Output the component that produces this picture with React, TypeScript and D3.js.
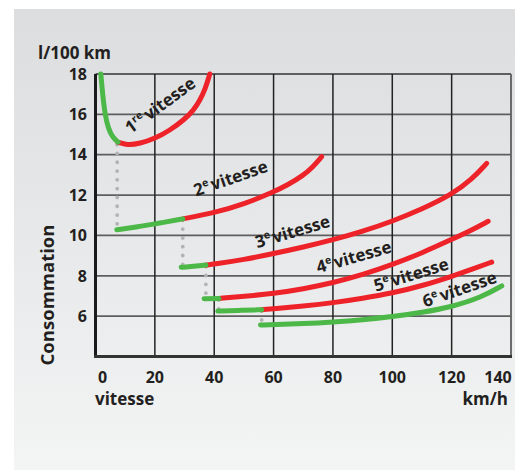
import * as d3 from 'd3'

// speed (km/h), consumption (l/100 km)
const gear1Green: [number, number][] = [[1.8, 18], [2.4, 17], [3.2, 16], [4.3, 15.3], [5.8, 14.85], [7.6, 14.62]]
const gear1Red: [number, number][] = [[7.6, 14.62], [10.5, 14.47], [15, 14.55], [20, 14.8], [25, 15.2], [30, 15.75], [33, 16.2], [35, 16.65], [37, 17.25], [38.5, 18]]
const gear2Green: [number, number][] = [[7.2, 10.28], [15, 10.45], [22, 10.62], [29.4, 10.82]]
const gear2Red: [number, number][] = [[29.4, 10.82], [40, 11.12], [50, 11.55], [60, 12.15], [65, 12.52], [70, 12.98], [73, 13.35], [76.2, 13.9]]
const gear3Green: [number, number][] = [[28.9, 8.42], [33, 8.47], [37.2, 8.53]]
const gear3Red: [number, number][] = [[37.2, 8.53], [40, 8.58], [50, 8.8], [60, 9.1], [70, 9.42], [80, 9.78], [90, 10.2], [100, 10.7], [110, 11.3], [120, 12.02], [127, 12.8], [131.8, 13.57]]
const gear4Green: [number, number][] = [[36.6, 6.86], [41.6, 6.88]]
const gear4Red: [number, number][] = [[41.6, 6.88], [50, 6.98], [60, 7.12], [70, 7.35], [80, 7.65], [90, 8.05], [100, 8.55], [110, 9.13], [120, 9.8], [127, 10.28], [132.3, 10.7]]
const gear5Green: [number, number][] = [[41.2, 6.25], [48, 6.28], [56, 6.32]]
const gear5Red: [number, number][] = [[56, 6.32], [60, 6.37], [70, 6.5], [80, 6.66], [90, 6.88], [100, 7.14], [110, 7.5], [120, 7.97], [127, 8.33], [133.5, 8.68]]
const gear6Green: [number, number][] = [[55.6, 5.56], [60, 5.58], [70, 5.63], [80, 5.71], [90, 5.82], [100, 5.97], [110, 6.18], [120, 6.46], [130, 6.93], [136.9, 7.5]]

// dotted drops when shifting up: [speed, from, to]
const shifts: [number, number, number][] = [
  [7.3, 14.5, 10.4],
  [29.4, 10.75, 8.5],
  [37.2, 8.45, 6.95],
  [41.5, 6.8, 6.3],
  [56, 6.25, 5.62],
]

const gearNames = ['1', '2', '3', '4', '5', '6']
const gearSup = ['re', 'e', 'e', 'e', 'e', 'e']
// label anchor (speed, consumption) and angle
const labelAt: [number, number][] = [[11.8, 15.02], [33.9, 11.93], [54.5, 9.36], [75.1, 8.12], [94.5, 7.21], [111, 6.43]]
const labelAngle = [-36, -19, -16.5, -16, -17, -19]

const xTicks = [0, 20, 40, 60, 80, 100, 120, 140]
const yTicks = [6, 8, 10, 12, 14, 16, 18]

const W = 515
const H = 470
const RED = '#ee2229'
const GREEN = '#4cb848'
const INK = '#231f20'
const FONT = "'Open Sans', 'DejaVu Sans', sans-serif"

export default function App() {
  const x = d3.scaleLinear().domain([0, 140]).range([95.5, 511])
  const y = d3.scaleLinear().domain([4, 18]).range([356.5, 74])

  const line = d3.line<[number, number]>()
    .x(d => x(d[0]))
    .y(d => y(d[1]))
    .curve(d3.curveBasis)

  const greens = [gear1Green, gear2Green, gear3Green, gear4Green, gear5Green, gear6Green]
  const reds = [gear1Red, gear2Red, gear3Red, gear4Red, gear5Red]

  return (
    <div style={{ position: 'absolute', left: 0, top: 0 }}>
      <svg width={W} height={H} style={{ display: 'block' }} fontFamily={FONT}>
        <defs>
          <linearGradient id="bg" x1="0" y1="0" x2="0" y2="1">
            <stop offset="0" stopColor="#dcdddf" />
            <stop offset="1" stopColor="#f3f4f4" />
          </linearGradient>
        </defs>
        <rect x={0} y={0} width={W} height={H} fill="#fff" />
        <rect x={14} y={9} width={W - 14} height={H - 9} fill="url(#bg)" />

        {/* grid */}
        {yTicks.map(t => (
          <line key={'h' + t} x1={x(0)} x2={x(140)} y1={y(t)} y2={y(t)} stroke="#5e5e5e" strokeWidth={1.8} />
        ))}
        {xTicks.slice(1).map(t => (
          <line key={'v' + t} x1={x(t)} x2={x(t)} y1={y(18)} y2={y(4)}
            stroke={t === 140 ? '#5e5e5e' : '#222'} strokeWidth={t === 140 ? 1.8 : 1.5} />
        ))}
        {/* axes */}
        <line x1={x(0)} x2={x(0)} y1={y(18)} y2={y(4) + 1.5} stroke="#1a1a1a" strokeWidth={3} />
        <line x1={x(0) - 1.5} x2={x(140) + 1} y1={y(4)} y2={y(4)} stroke="#333" strokeWidth={3} />

        {/* shift drops */}
        {shifts.map((s, i) => (
          <line key={'s' + i} x1={x(s[0])} x2={x(s[0])} y1={y(s[1])} y2={y(s[2])}
            stroke="#b3b3b3" strokeWidth={3.8} strokeLinecap="round" strokeDasharray="0 8.8" />
        ))}

        {/* curves */}
        {reds.map((r, i) => (
          <path key={'r' + i} d={line(r) ?? ''} fill="none" stroke={RED} strokeWidth={5} strokeLinecap="round" />
        ))}
        {greens.map((g, i) => (
          <path key={'g' + i} d={line(g) ?? ''} fill="none" stroke={GREEN} strokeWidth={5} strokeLinecap="round" />
        ))}

        {/* gear labels */}
        {gearNames.map((n, i) => {
          const px = x(labelAt[i][0])
          const py = y(labelAt[i][1])
          return (
            <text key={'l' + i} x={px} y={py} transform={`rotate(${labelAngle[i]},${px},${py})`}
              fontSize={17} fontWeight={700} fill={INK}>
              {n}
              <tspan fontSize={10.5} dy={-6.5}>{gearSup[i]}</tspan>
              <tspan dy={6.5} dx={2}>vitesse</tspan>
            </text>
          )
        })}

        {/* tick labels */}
        {yTicks.map(t => (
          <text key={'yt' + t} x={87} y={y(t)} dy="0.36em" textAnchor="end" fontSize={16} fontWeight={700} fill={INK}>{t}</text>
        ))}
        {xTicks.map(t => (
          <text key={'xt' + t} x={x(t) + (t === 0 ? 7 : t === 140 ? -13 : 0)} y={377} dy="0.36em"
            textAnchor="middle" fontSize={16} fontWeight={700} fill={INK}>{t}</text>
        ))}

        {/* axis titles */}
        <text x={38} y={59} fontSize={17} fontWeight={700} fill={INK}>l/100 km</text>
        <text x={95} y={405} fontSize={17} fontWeight={700} fill={INK}>vitesse</text>
        <text x={508} y={405} textAnchor="end" fontSize={17} fontWeight={700} fill={INK}>km/h</text>
        <text transform="translate(54,295) rotate(-90)" textAnchor="middle" fontSize={18.5} fontWeight={700} fill={INK}>Consommation</text>
      </svg>
    </div>
  )
}
